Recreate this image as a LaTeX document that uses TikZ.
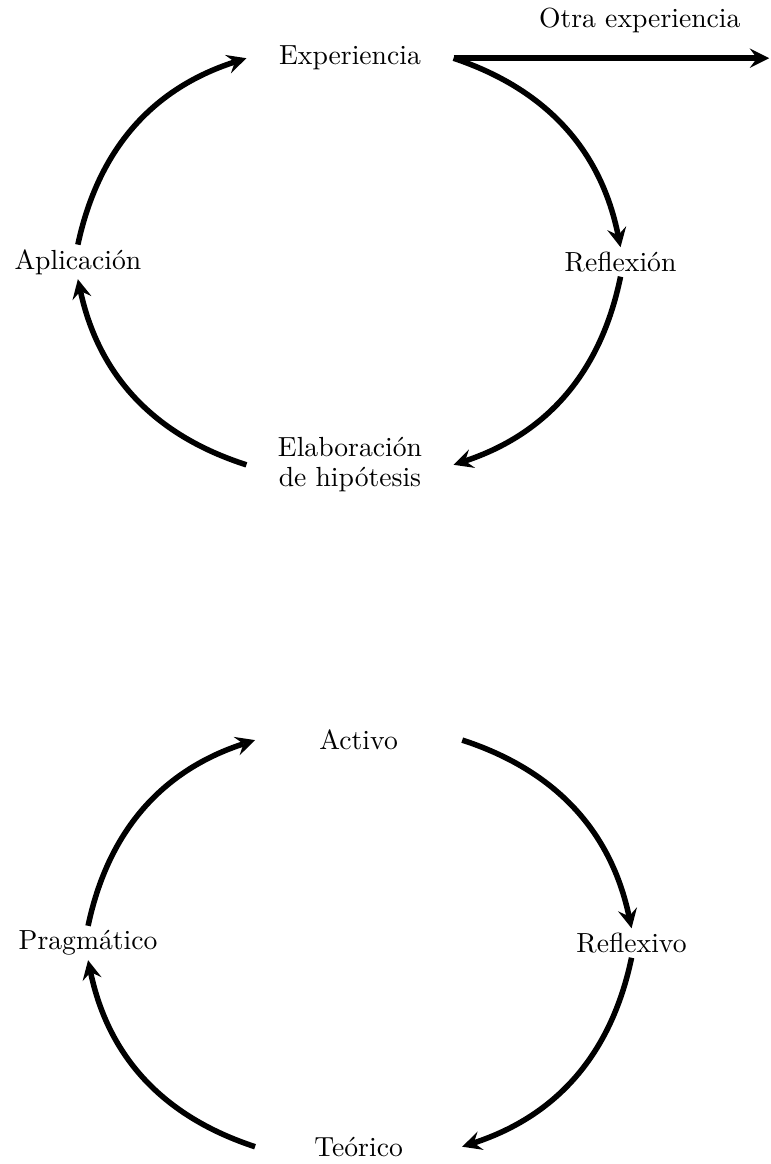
\documentclass[tikz,border=0pt]{standalone}
\usetikzlibrary{arrows}

\begin{document}
\begin{tikzpicture}[etapa/.style={minimum width=2.62cm, inner sep=1.5pt, align=center},
		flecha/.style={-stealth, line width=2pt}]
		
		\useasboundingbox (0,0) rectangle (9.80,-14.80);
		
		%Ciclo de la experiencia
		\node(Experiencia) at (4.45,-0.74) [etapa]{Experiencia};
		\node(Reflexion) at (7.89,-3.33) [etapa]{Reflexión};
		\node(Elaboracion) at (4.45,-5.91) [etapa]{Elaboración\\[-1pt]de hipótesis};
		\node(Aplicacion) at (0.99,-3.33) [etapa]{Aplicación};
		\coordinate (OtraExperiencia) at (9.78,-0.74);
		
		%Flechas del ciclo
		\draw[flecha] (Experiencia.east) -- node[above=5pt, pos=0.59]{Otra experiencia} (OtraExperiencia);
		\draw[flecha] (Experiencia.east) to[bend left] (Reflexion.north);
		\draw[flecha] (Reflexion.south) to[bend left] (Elaboracion.east);
		\draw[flecha] (Elaboracion.west) to[bend left] (Aplicacion.south);
		\draw[flecha] (Aplicacion.north) to[bend left] (Experiencia.west);
		
		%Ciclo de los estilos
		\node(Activo) at (4.56,-9.41) [etapa]{Activo};
		\node(Reflexivo) at (8.03,-11.99) [etapa]{Reflexivo};
		\node(Teorico) at (4.56,-14.58) [etapa]{Teórico};
		\node(Pragmatico) at (1.12,-11.99) [etapa]{Pragmático};
		
		%Flechas de los estilos
		\draw[flecha] (Activo.east) to[bend left] (Reflexivo.north);
		\draw[flecha] (Reflexivo.south) to[bend left] (Teorico.east);
		\draw[flecha] (Teorico.west) to[bend left] (Pragmatico.south);
		\draw[flecha] (Pragmatico.north) to[bend left] (Activo.west);
		
\end{tikzpicture}
\end{document}
